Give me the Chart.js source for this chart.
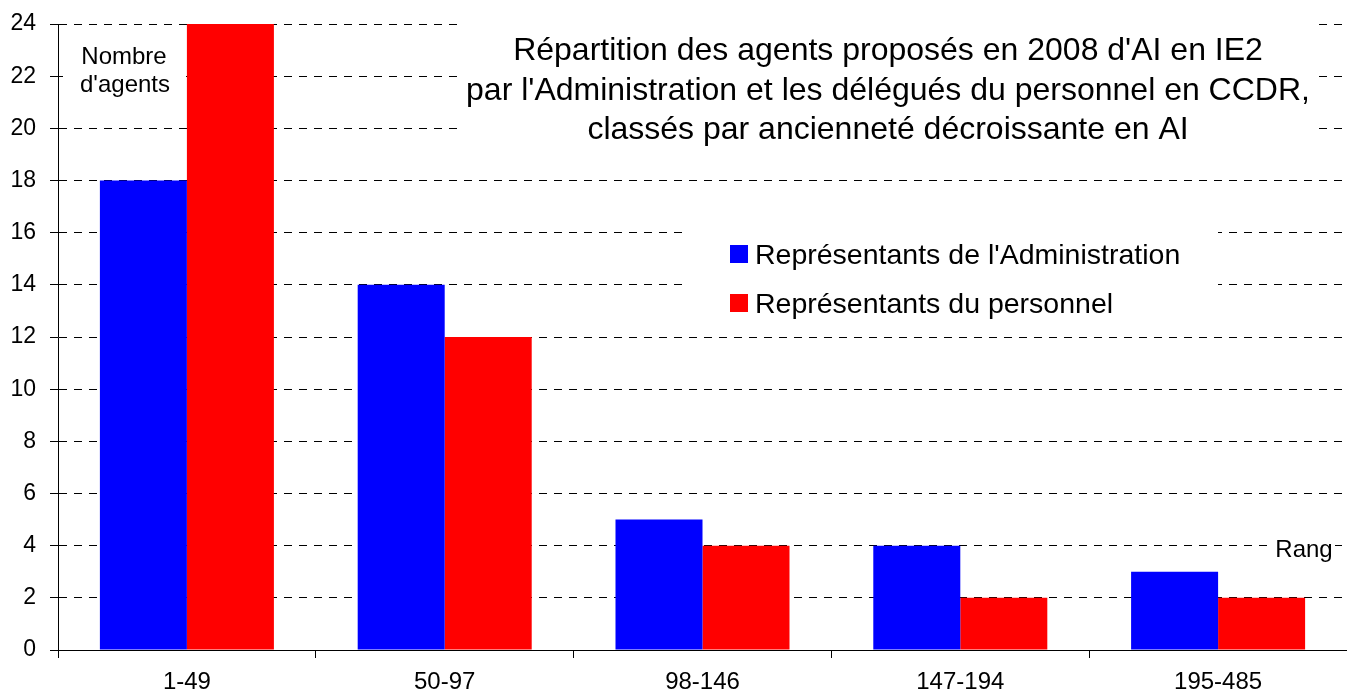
<!DOCTYPE html>
<html>
<head>
<meta charset="utf-8">
<script src="https://cdn.jsdelivr.net/npm/chart.js@4.4.1/dist/chart.umd.min.js"></script>
<style>
  html, body { margin: 0; padding: 0; background: #fff; }
  #chart { display: block; }
</style>
</head>
<body>
<canvas id="chart" width="1347" height="695"></canvas>
<script>
// --- DONNÉES ---
const categories = ['1-49', '50-97', '98-146', '147-194', '195-485'];
const adminValues = [18, 14, 5, 4, 3];
const staffValues = [24, 12, 4, 2, 2];
const seriesNames = ["Représentants de l'Administration", 'Représentants du personnel'];
const seriesColors = ['#0000ff', '#ff0000'];
const yMin = 0, yMax = 24, yStep = 2;
const titleLines = [
    "Répartition des agents proposés en 2008 d'AI en IE2",
    "par l'Administration et les délégués du personnel en CCDR,",
    'classés par ancienneté décroissante en AI'
];
const yAxisLabel = ['Nombre', "d'agents"];
const xAxisLabel = 'Rang';

const FONT = '"Liberation Sans", Arial, sans-serif';

// --- TEXTES ET CADRES BLANCS ---
const overlay = {
    id: 'overlay',
    beforeDatasetsDraw(chart) {
        const ctx = chart.ctx;
        ctx.save();
        ctx.fillStyle = '#fff';
        ctx.fillRect(462, 14, 855, 126);   // titre
        ctx.fillRect(688, 215, 530, 105);  // légende
        ctx.fillRect(63, 40, 123, 65);     // Nombre d'agents
        ctx.fillRect(1268, 535, 67, 25);   // Rang
        ctx.restore();
    },
    afterDraw(chart) {
        const ctx = chart.ctx;
        ctx.save();
        ctx.fillStyle = '#000';
        ctx.textBaseline = 'alphabetic';

        ctx.textAlign = 'center';
        ctx.font = '32px ' + FONT;
        [60, 100, 139].forEach((y, i) => ctx.fillText(titleLines[i], 888, y));

        ctx.font = '24px ' + FONT;
        ctx.fillText(yAxisLabel[0], 124, 64);
        ctx.fillText(yAxisLabel[1], 125, 92);
        ctx.fillText(xAxisLabel, 1304, 557);

        ctx.textAlign = 'left';
        ctx.font = '28.5px ' + FONT;
        [245, 294].forEach((y, i) => {
            ctx.fillStyle = seriesColors[i];
            ctx.fillRect(730, y, 18, 18);
            ctx.fillStyle = '#000';
            ctx.fillText(seriesNames[i], 755, y + 19);
        });
        ctx.restore();
    }
};

// --- BIỂU ĐỒ ---
const ctx = document.getElementById('chart').getContext('2d');
new Chart(ctx, {
    type: 'bar',
    data: {
        labels: categories,
        datasets: [{
            label: seriesNames[0],
            data: adminValues,
            backgroundColor: seriesColors[0],
            borderWidth: 0
        }, {
            label: seriesNames[1],
            data: staffValues,
            backgroundColor: seriesColors[1],
            borderWidth: 0
        }]
    },
    options: {
        responsive: false,
        animation: false,
        categoryPercentage: 0.675,
        barPercentage: 1,
        layout: { padding: { top: 24, right: 0, left: 0, bottom: 0 } },
        plugins: {
            legend: { display: false },
            tooltip: { enabled: false }
        },
        scales: {
            x: {
                afterFit: (scale) => { scale.height = 45; },
                grid: {
                    offset: true,
                    drawOnChartArea: false,
                    tickLength: 8,
                    color: '#000'
                },
                border: { color: '#000', width: 1 },
                ticks: {
                    color: '#000',
                    padding: 10,
                    font: { family: FONT, size: 24 }
                }
            },
            y: {
                min: yMin,
                max: yMax,
                afterFit: (scale) => {
                    scale.width = 58;
                    scale.paddingTop = 0;
                    scale.paddingBottom = 0;
                },
                grid: {
                    color: '#000',
                    tickLength: 8,
                    lineWidth: 1
                },
                border: { color: '#000', width: 1, dash: [8, 7] },
                ticks: {
                    stepSize: yStep,
                    color: '#000',
                    padding: 14,
                    font: { family: FONT, size: 23 }
                }
            }
        }
    },
    plugins: [overlay]
});
</script>
</body>
</html>
